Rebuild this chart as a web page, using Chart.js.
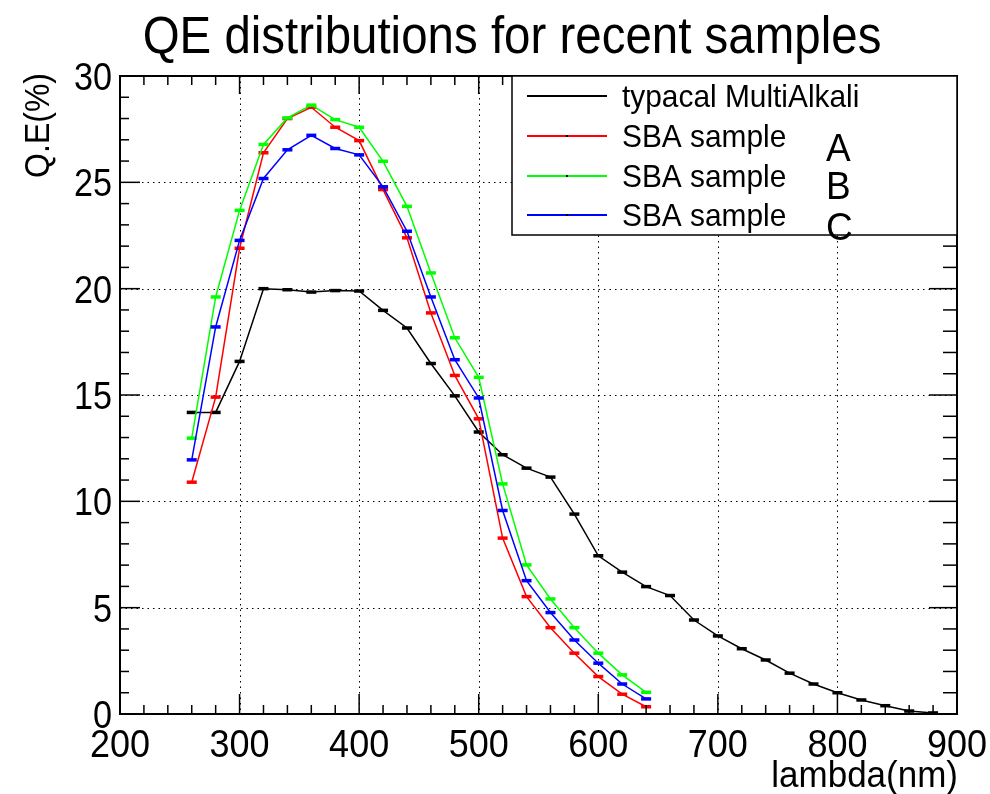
<!DOCTYPE html>
<html>
<head>
<meta charset="utf-8">
<script src="https://cdn.jsdelivr.net/npm/chart.js@4"></script>
<style>
html,body{margin:0;padding:0;background:#fff;}
#wrap{width:990px;height:794px;position:relative;}
</style>
</head>
<body>
<div id="wrap"><canvas id="c"></canvas></div>
<script>
const titleText = 'QE distributions for recent samples';
const xAxisTitle = 'lambda(nm)';
const yAxisTitle = 'Q.E(%)';

const lambdaMultiAlkali = [260,280,300,320,340,360,380,400,420,440,460,480,500,520,540,560,580,600,620,640,660,680,700,720,740,760,780,800,820,840,860,880];
const qeMultiAlkali = [14.18,14.18,16.58,20.0,19.95,19.84,19.91,19.89,18.98,18.15,16.48,14.96,13.26,12.19,11.56,11.14,9.4,7.44,6.67,5.99,5.57,4.42,3.67,3.07,2.54,1.92,1.41,1.0,0.66,0.39,0.14,0.05];

const lambdaSBA = [260,280,300,320,340,360,380,400,420,440,460,480,500,520,540,560,580,600,620,640];
const qeSampleA = [10.9,14.9,21.9,26.39,28.0,28.53,27.59,26.96,24.66,22.39,18.86,15.92,13.88,8.27,5.52,4.06,2.86,1.76,0.93,0.34];
const qeSampleB = [12.97,19.61,23.68,26.78,28.03,28.63,27.95,27.59,25.99,23.87,20.74,17.69,15.83,10.82,7.01,5.41,4.06,2.86,1.84,1.02];
const qeSampleC = [11.95,18.2,22.27,25.18,26.53,27.21,26.59,26.29,24.79,22.7,19.61,16.66,14.86,9.57,6.27,4.77,3.48,2.39,1.41,0.71];

const xTickLabels = ['200','300','400','500','600','700','800','900'];
const yTickLabels = ['0','5','10','15','20','25','30'];

const seriesNames = ['typacal MultiAlkali','SBA sample','SBA sample','SBA sample'];
const sampleTags = ['A','B','C'];
const seriesColors = ['#000000','#ff0000','#00ff00','#0000ff'];

const FONT = '"Liberation Sans", Arial, Helvetica, sans-serif';

function pts(xs, ys){ return xs.map((v,i)=>({x:v, y:ys[i]})); }

function seg(ctx,x1,y1,x2,y2){ctx.beginPath();ctx.moveTo(x1,y1);ctx.lineTo(x2,y2);ctx.stroke();}

// draw text slightly condensed horizontally, like the original's Helvetica rendering
function tallText(ctx, txt, x, y, sx, sy){
  ctx.save();
  ctx.translate(x,y);
  ctx.scale(sx,sy);
  ctx.fillText(txt,0,0);
  ctx.restore();
}

const rootPlugin = {
  id: 'rootStyle',
  beforeDatasetsDraw(chart){
    const {ctx, chartArea:a, scales:{x,y}} = chart;
    ctx.save();
    ctx.strokeStyle = '#000';
    ctx.lineWidth = 1;
    ctx.setLineDash([1.5,4]);
    xTickLabels.map(Number).forEach(v=>{
      if(v<=x.min||v>=x.max) return;
      const px = Math.round(x.getPixelForValue(v))+0.5;
      seg(ctx,px,a.top,px,a.bottom);
    });
    yTickLabels.map(Number).forEach(v=>{
      if(v<=y.min||v>=y.max) return;
      const py = Math.round(y.getPixelForValue(v))+0.5;
      seg(ctx,a.left,py,a.right,py);
    });
    ctx.restore();
  },
  afterDatasetsDraw(chart){
    const {ctx, chartArea:a, scales:{x,y}} = chart;
    ctx.save();
    ctx.setLineDash([]);
    ctx.strokeStyle = '#000';
    ctx.lineWidth = 1.5;
    const xm = xTickLabels.map(Number), ym = yTickLabels.map(Number);
    xm.forEach((v,i)=>{
      const px = x.getPixelForValue(v);
      seg(ctx,px,a.bottom,px,a.bottom-20);
      seg(ctx,px,a.top,px,a.top+18);
      if(i<xm.length-1){
        const st=(xm[i+1]-v)/5;
        for(let k=1;k<5;k++){
          const q=x.getPixelForValue(v+k*st);
          seg(ctx,q,a.bottom,q,a.bottom-9);
          seg(ctx,q,a.top,q,a.top+9);
        }
      }
    });
    ym.forEach((v,i)=>{
      const py = y.getPixelForValue(v);
      seg(ctx,a.left,py,a.left+20,py);
      seg(ctx,a.right,py,a.right-28,py);
      if(i<ym.length-1){
        const st=(ym[i+1]-v)/5;
        for(let k=1;k<5;k++){
          const q=y.getPixelForValue(v+k*st);
          seg(ctx,a.left,q,a.left+9,q);
          seg(ctx,a.right,q,a.right-14,q);
        }
      }
    });
    ctx.lineWidth = 2;
    ctx.strokeRect(a.left,a.top,a.right-a.left,a.bottom-a.top);

    ctx.fillStyle = '#000';
    ctx.font = '36px '+FONT;
    ctx.textAlign = 'right';
    ctx.textBaseline = 'alphabetic';
    yTickLabels.forEach(t=>{
      tallText(ctx, t, a.left-8, y.getPixelForValue(Number(t))+14, 0.95, 1.1);
    });
    ctx.textAlign = 'center';
    xTickLabels.forEach(t=>{
      tallText(ctx, t, x.getPixelForValue(Number(t)), a.bottom+43, 1.0, 1.1);
    });
    ctx.font = '35px '+FONT;
    ctx.textAlign = 'right';
    tallText(ctx, xAxisTitle, a.right+1, 787, 1.0, 1.08);
    ctx.save();
    ctx.translate(49, a.top-3);
    ctx.rotate(-Math.PI/2);
    ctx.font = '32px '+FONT;
    ctx.textAlign = 'right';
    ctx.scale(1.0,1.08);
    ctx.fillText(yAxisTitle, 0, 0);
    ctx.restore();
    ctx.font = '47px '+FONT;
    ctx.textAlign = 'center';
    tallText(ctx, titleText, 512, 53, 1.01, 1.1);

    const lx=512, ly=a.top, lw=a.right-512, lh=159;
    ctx.fillStyle='#fff';
    ctx.fillRect(lx,ly,lw,lh);
    ctx.lineWidth=1.5;
    ctx.strokeStyle='#000';
    ctx.strokeRect(lx,ly,lw,lh);
    const rowY=[96,136,176,215];
    ctx.font='29px '+FONT;
    ctx.textAlign='left';
    seriesNames.forEach((n,i)=>{
      ctx.strokeStyle=seriesColors[i];
      ctx.lineWidth=2;
      seg(ctx,527,rowY[i],607,rowY[i]);
      ctx.fillStyle='#000';
      ctx.fillRect(566,rowY[i]-1,2,2);
      tallText(ctx,n,622,rowY[i]+11,1.03,1.08);
    });
    ctx.font='37px '+FONT;
    const tagY=[161,199,240];
    sampleTags.forEach((t,i)=>tallText(ctx,t,826,tagY[i],1,1.03));
    ctx.restore();
  }
};

const ds = (label, xs, ys, color, order)=>({
  label, data: pts(xs,ys), borderColor: color, backgroundColor: color,
  borderWidth: 1.5, tension: 0, fill:false, order,
  pointStyle:'line', pointRadius:5, pointBorderWidth:3.5, pointBorderColor: color
});

new Chart(document.getElementById('c'), {
  type:'line',
  data:{datasets:[
    ds(seriesNames[0], lambdaMultiAlkali, qeMultiAlkali, seriesColors[0], 4),
    ds(seriesNames[1]+' '+sampleTags[0], lambdaSBA, qeSampleA, seriesColors[1], 3),
    ds(seriesNames[2]+' '+sampleTags[1], lambdaSBA, qeSampleB, seriesColors[2], 2),
    ds(seriesNames[3]+' '+sampleTags[2], lambdaSBA, qeSampleC, seriesColors[3], 1)
  ]},
  options:{
    responsive:true, maintainAspectRatio:false, animation:false, devicePixelRatio:1,
    layout:{padding:{left:120,top:76,right:33,bottom:80}},
    plugins:{legend:{display:false}, tooltip:{enabled:false}, title:{display:false}},
    scales:{
      x:{type:'linear', min:Number(xTickLabels[0]), max:Number(xTickLabels[xTickLabels.length-1]), display:false},
      y:{type:'linear', min:Number(yTickLabels[0]), max:Number(yTickLabels[yTickLabels.length-1]), display:false}
    }
  },
  plugins:[rootPlugin]
});
</script>
</body>
</html>
